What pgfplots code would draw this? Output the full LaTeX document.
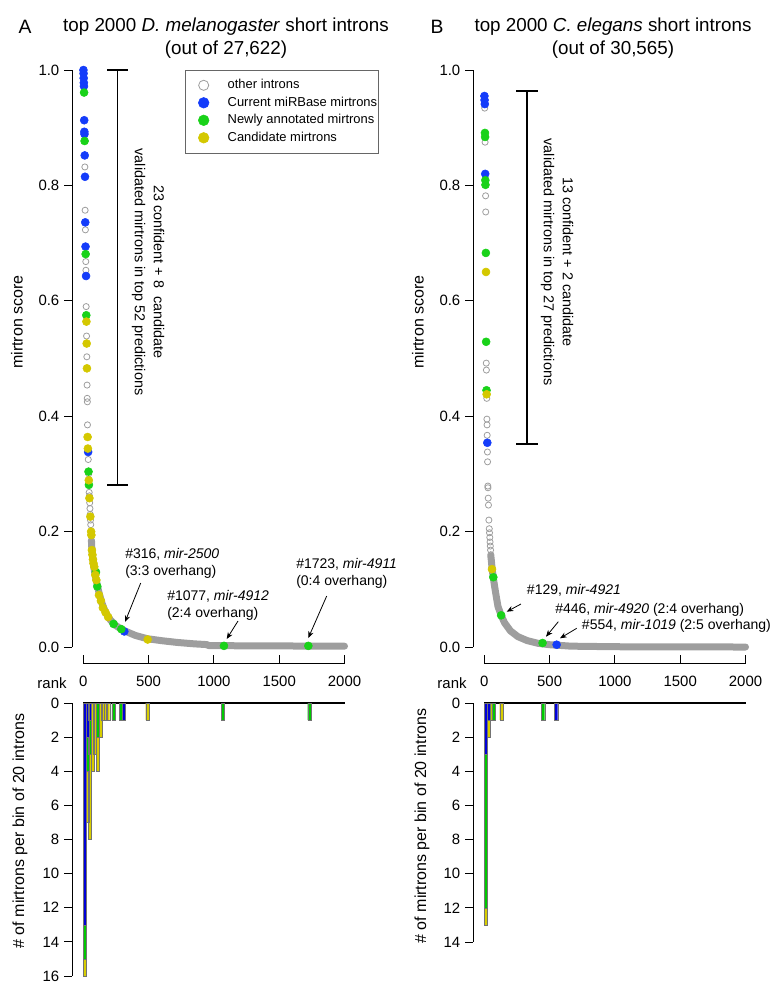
\documentclass[border=0pt]{standalone}
\usepackage{pgfplots}
\pgfplotsset{compat=1.18}
\usepackage{fontspec}
\setmainfont{Liberation Sans}
\usetikzlibrary{arrows.meta}

\definecolor{cblue}{RGB}{20,60,250}
\definecolor{cgreen}{RGB}{25,210,25}
\definecolor{cyellow}{RGB}{212,200,0}
\definecolor{cgrey}{RGB}{158,158,158}
\definecolor{hblue}{RGB}{0,0,215}
\definecolor{hgreen}{RGB}{0,200,0}
\definecolor{hyellow}{RGB}{215,205,0}

\newcommand{\fs}{\fontsize{11.2}{13.5}\selectfont}
\newcommand{\fl}{\fontsize{12}{14}\selectfont}
\newcommand{\fa}{\fontsize{10.5}{12.75}\selectfont}
\newcommand{\ft}{\fontsize{14.1}{17.5}\selectfont}

\pgfplotsset{
  scat/.style={
    scale only axis, width=208.5pt, height=450.75pt,
    xmin=-86.5, xmax=2042, ymin=-0.0277, ymax=1.0139,
    axis line style={draw=none}, clip=false,
    tick align=outside, major tick length=6pt,
    tick style={black, line width=0.7pt},
    xtick={0,500,1000,1500,2000}, xticklabels={0,500,1000,1500,2000},
    xtick pos=bottom, xtick style={draw=none},
    ytick={0,0.2,0.4,0.6,0.8,1}, yticklabels={0.0,0.2,0.4,0.6,0.8,1.0},
    ytick pos=left,
    tick label style={font=\fs},
    /pgf/number format/assume math mode=true,
  },
  hist/.style={
    scale only axis, width=208.5pt,
    xmin=-86.5, xmax=2042, ymin=0, y dir=reverse,
    axis line style={draw=none}, clip=false,
    tick align=outside, major tick length=6pt,
    tick style={black, line width=0.7pt},
    xtick=\empty, ytick pos=left,
    tick label style={font=\fs},
    /pgf/number format/assume math mode=true,
    ybar stacked, bar width=24,
  },
  hb/.style={fill=hblue, draw=black!55, line width=0.2pt},
  hg/.style={fill=hgreen, draw=black!55, line width=0.2pt},
  hy/.style={fill=hyellow, draw=black!55, line width=0.2pt},
  curve/.style={cgrey, line width=5.25pt, line cap=round, line join=round, forget plot},
  op/.style={only marks, mark=o, mark size=2.3pt, cgrey, line width=0.6pt, forget plot},
  pb/.style={only marks, mark=*, mark size=3pt, cblue, forget plot},
  pg/.style={only marks, mark=*, mark size=3pt, cgreen, forget plot},
  py/.style={only marks, mark=*, mark size=3pt, cyellow, forget plot},
  lgm/.style={legend image code/.code={\path (0,0); \draw[##1] plot coordinates {(0.44cm,0cm)};}},
}

\begin{document}
\begin{tikzpicture}[x=0.75pt,y=-0.75pt]
\useasboundingbox (0,0) rectangle (774,983);
\coordinate (sA) at (72,663);
\coordinate (sB) at (473,663);
\coordinate (hA) at (72,703);
\coordinate (hB) at (473,703);

% ---------------- Panel A scatter
\begin{axis}[scat, at={(sA)}, anchor=south west,
  legend style={at={(0.4065,0.9867)}, anchor=north west, draw=black!60, fill=white,
    font=\fontsize{9.7}{11}\selectfont, row sep=0.6pt, column sep=11.5pt,
    inner xsep=1pt, inner ysep=5pt, nodes={inner xsep=0pt}},
  legend cell align=left]
\addplot[curve] coordinates {(62,0.185) (66,0.168) (72,0.155) (80,0.140) (90,0.125) (100,0.115) (110,0.104) (125,0.090) (143,0.076) (170,0.060) (207,0.047) (250,0.037) (306,0.029) (400,0.020) (488,0.0145) (600,0.011) (717,0.008) (850,0.0055) (947,0.0042) (960,0.0025) (1300,0.002) (2000,0.0015)};
\addplot[op] coordinates {(12,0.832) (14,0.757) (16,0.723) (19,0.668) (20,0.653) (22,0.590) (25,0.539) (27,0.503) (29,0.454) (30,0.431) (31,0.425) (32,0.385) (38,0.325) (41,0.300) (45,0.268) (47,0.262) (49,0.250) (51,0.240) (53,0.230) (55,0.220) (57,0.212) (60,0.195) (64,0.183)};
\addplot[pb] coordinates {(1,1.000) (2,0.994) (3,0.986) (4,0.978) (5,0.972) (7,0.913) (8,0.893) (9,0.889) (11,0.852) (13,0.815) (15,0.736) (17,0.694) (21,0.643) (37,0.338) (314,0.027)};
\addplot[pg] coordinates {(6,0.961) (10,0.877) (18,0.681) (23,0.575) (40,0.304) (43,0.281) (97,0.130) (107,0.105) (232,0.040) (291,0.031) (1077,0.002) (1723,0.002)};
\addplot[py] coordinates {(24,0.564) (26,0.526) (28,0.483) (33,0.364) (35,0.344) (42,0.289) (47,0.258) (54,0.226) (60,0.200) (62,0.194) (66,0.168) (70,0.160) (74,0.152) (78,0.145) (84,0.139) (92,0.125) (100,0.116) (120,0.090) (135,0.080) (150,0.068) (170,0.060) (190,0.052) (493,0.013)};
\addlegendimage{only marks, mark=o, mark size=3.8pt, cgrey, line width=0.6pt, lgm}
\addlegendentry{\hspace{2.5pt}other introns}
\addlegendimage{only marks, mark=*, mark size=4pt, cblue, lgm}
\addlegendentry{\hspace{2.5pt}Current miRBase mirtrons}
\addlegendimage{only marks, mark=*, mark size=4pt, cgreen, lgm}
\addlegendentry{\hspace{2.5pt}Newly annotated mirtrons}
\addlegendimage{only marks, mark=*, mark size=4pt, cyellow, lgm}
\addlegendentry{\hspace{2.5pt}Candidate mirtrons}
\draw[line width=0.7pt] (axis cs:-86.5,0) -- (axis cs:-86.5,1);
\draw[line width=0.7pt] (axis cs:0,-0.0277) -- (axis cs:2000,-0.0277);
\pgfplotsinvokeforeach{0,500,1000,1500,2000}{\draw[line width=0.7pt] (axis cs:#1,-0.0277) -- ([yshift=6pt]axis cs:#1,-0.0277);}
\end{axis}

% ---------------- Panel B scatter
\begin{axis}[scat, at={(sB)}, anchor=south west]
\addplot[curve] coordinates {(50,0.158) (54,0.150) (60,0.135) (69,0.120) (79,0.105) (92,0.087) (105,0.070) (129,0.055) (155,0.042) (200,0.028) (257,0.018) (330,0.011) (410,0.0065) (500,0.004) (664,0.0015) (1000,0.0005) (2000,0.0)};
\addplot[op] coordinates {(3,0.934) (6,0.875) (10,0.782) (11,0.754) (15,0.492) (16,0.480) (19,0.431) (20,0.395) (21,0.385) (22,0.367) (24,0.338) (25,0.321) (27,0.279) (28,0.276) (30,0.258) (32,0.246) (35,0.220) (38,0.205) (40,0.198) (42,0.190) (44,0.182) (46,0.175) (48,0.168) (50,0.160)};
\addplot[pb] coordinates {(1,0.955) (2,0.948) (4,0.941) (7,0.820) (23,0.354) (554,0.004)};
\addplot[pg] coordinates {(5,0.891) (6,0.884) (8,0.809) (9,0.801) (12,0.683) (14,0.529) (17,0.445) (69,0.121) (129,0.055) (446,0.007)};
\addplot[py] coordinates {(13,0.650) (18,0.438) (59,0.135)};
\draw[line width=0.7pt] (axis cs:-86.5,0) -- (axis cs:-86.5,1);
\draw[line width=0.7pt] (axis cs:0,-0.0277) -- (axis cs:2000,-0.0277);
\pgfplotsinvokeforeach{0,500,1000,1500,2000}{\draw[line width=0.7pt] (axis cs:#1,-0.0277) -- ([yshift=6pt]axis cs:#1,-0.0277);}
\end{axis}

% ---------------- Panel A histogram
\begin{axis}[hist, at={(hA)}, anchor=north west, height=204.75pt, ymax=16, ytick={0,2,4,6,8,10,12,14,16}]
\addplot[hb] coordinates {(10,13) (30,2) (50,1) (70,0) (90,0) (110,0) (130,0) (150,0) (170,0) (190,0) (230,0) (290,0) (310,1) (490,0) (1070,0) (1730,0)};
\addplot[hg] coordinates {(10,2) (30,2) (50,2) (70,0) (90,0) (110,2) (130,0) (150,0) (170,0) (190,0) (230,1) (290,1) (310,0) (490,0) (1070,1) (1730,1)};
\addplot[hy] coordinates {(10,1) (30,3) (50,5) (70,4) (90,3) (110,2) (130,2) (150,1) (170,1) (190,1) (230,0) (290,0) (310,0) (490,1) (1070,0) (1730,0)};
\draw[line width=0.7pt] (axis cs:-86.5,0) -- (axis cs:-86.5,16);
\draw[line width=1.3pt] (axis cs:0,0) -- (axis cs:2000,0);
\end{axis}

% ---------------- Panel B histogram
\begin{axis}[hist, at={(hB)}, anchor=north west, height=179.25pt, ymax=14, ytick={0,2,4,6,8,10,12,14}]
\addplot[hb] coordinates {(10,3) (30,1) (50,0) (70,0) (130,0) (450,0) (550,1)};
\addplot[hg] coordinates {(10,9) (30,0) (50,0) (70,1) (130,0) (450,1) (550,0)};
\addplot[hy] coordinates {(10,1) (30,1) (50,1) (70,0) (130,1) (450,0) (550,0)};
\draw[line width=0.7pt] (axis cs:-86.5,0) -- (axis cs:-86.5,14);
\draw[line width=1.3pt] (axis cs:0,0) -- (axis cs:2000,0);
\end{axis}

% ---------------- titles and labels
\node[font=\fontsize{14.5}{16}\selectfont] at (25,27) {A};
\node[font=\fontsize{14.5}{16}\selectfont] at (437,27) {B};
\node[font=\ft, align=center] at (226,38) {top 2000 \textit{D. melanogaster} short introns\\(out of 27,622)};
\node[font=\ft, align=center] at (613,38) {top 2000 \textit{C. elegans} short introns\\(out of 30,565)};

\node[font=\fl, rotate=90] at (17,322) {mirtron score};
\node[font=\fl, rotate=90] at (418,322) {mirtron score};
\node[font=\fl, rotate=90] at (20,831) {\# of mirtrons per bin of 20 introns};
\node[font=\fl, rotate=90] at (422,826) {\# of mirtrons per bin of 20 introns};
\node[font=\fs] at (52,683) {rank};
\node[font=\fs] at (452,683) {rank};

% brackets
\draw[line width=0.8pt] (107,70) -- (128,70) (117.5,70) -- (117.5,485) (107,485) -- (128,485);
\draw[line width=0.8pt] (516,91) -- (538,91) (527,91) -- (527,444) (516,444) -- (538,444);
\node[font=\fontsize{10.8}{14.25}\selectfont, rotate=-90, align=center] at (148,272) {23 confident + 8~ candidate\\validated mirtrons in top 52 predictions};
\node[font=\fontsize{10.8}{14.25}\selectfont, rotate=-90, align=center] at (557,262) {13 confident + 2 candidate\\validated mirtrons in top 27 predictions};

% annotations
\node[font=\fa, anchor=west, align=left, inner sep=0pt] at (125,563.5) {\#316, \textit{mir-2500}\\(3:3 overhang)};
\node[font=\fa, anchor=west, align=left, inner sep=0pt] at (167,605) {\#1077, \textit{mir-4912}\\(2:4 overhang)};
\node[font=\fa, anchor=west, align=left, inner sep=0pt] at (296,573.5) {\#1723, \textit{mir-4911}\\(0:4 overhang)};
\draw[-{Stealth[length=5pt,width=4pt]}, line width=0.6pt] (140.7,583) -- (125,622);
\draw[-{Stealth[length=5pt,width=4pt]}, line width=0.6pt] (238,621) -- (226.7,639);
\draw[-{Stealth[length=5pt,width=4pt]}, line width=0.6pt] (326.7,596) -- (308.3,638);

\node[font=\fa, anchor=west, inner sep=0pt] at (526.7,590) {\#129, \textit{mir-4921}};
\node[font=\fa, anchor=west, inner sep=0pt] at (555,610) {\#446, \textit{mir-4920} (2:4 overhang)};
\node[font=\fa, anchor=west, inner sep=0pt] at (581.7,625.5) {\#554, \textit{mir-1019} (2:5 overhang)};
\draw[-{Stealth[length=5pt,width=4pt]}, line width=0.6pt] (521,604) -- (506.7,611.7);
\draw[-{Stealth[length=5pt,width=4pt]}, line width=0.6pt] (558.3,621.7) -- (546,636.7);
\draw[-{Stealth[length=5pt,width=4pt]}, line width=0.6pt] (576.7,628.3) -- (560,638.3);
\end{tikzpicture}
\end{document}
